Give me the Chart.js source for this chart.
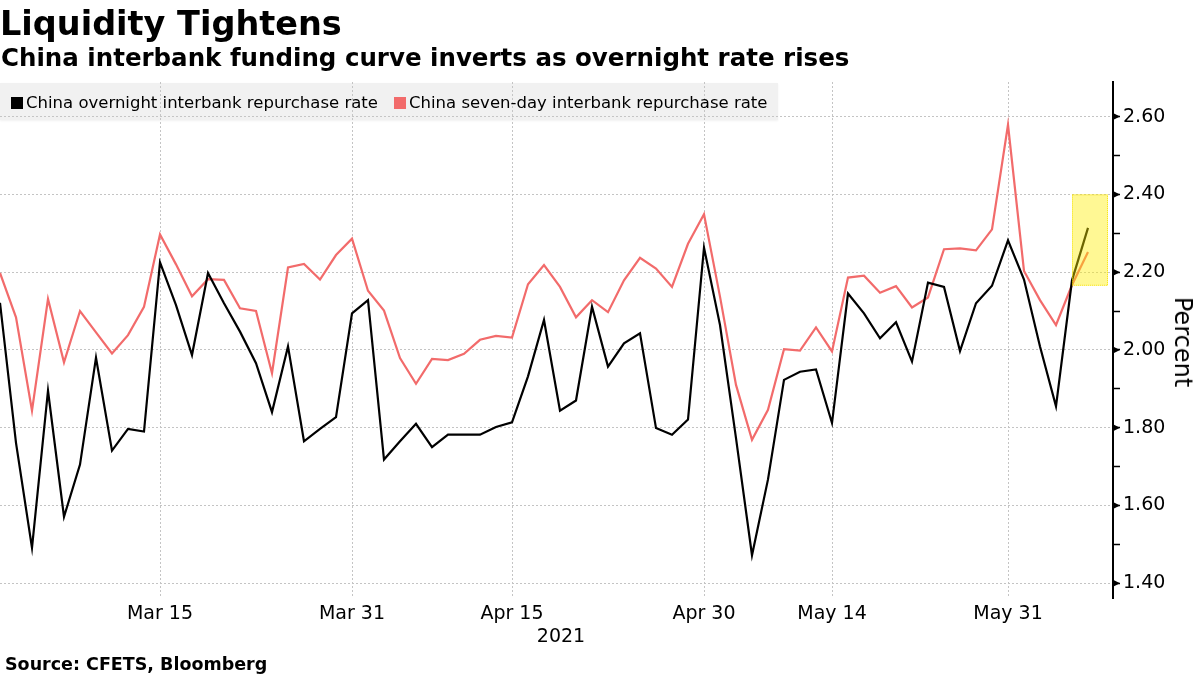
<!DOCTYPE html>
<html>
<head>
<meta charset="utf-8">
<script src="https://cdn.jsdelivr.net/npm/chart.js@4.4.0/dist/chart.umd.min.js"></script>
<style>
html,body{margin:0;padding:0;background:#fff;}
#wrap{position:relative;width:1200px;height:675px;overflow:hidden;font-family:"DejaVu Sans",sans-serif;color:#000;}
canvas{position:absolute;left:0;top:0;}
.t{position:absolute;white-space:nowrap;line-height:1;}
#legend{position:absolute;left:0;top:83px;width:778px;height:37px;background:rgba(200,200,200,0.25);box-shadow:0 1px 2px rgba(0,0,0,0.06);}
.sw{position:absolute;top:14px;width:12px;height:12px;}
.lt{position:absolute;top:12px;font-size:16.5px;line-height:1;white-space:nowrap;}
</style>
</head>
<body>
<div id="wrap">
<canvas id="c" width="1200" height="675"></canvas>
<div class="t" style="left:0;top:7px;font-size:33.5px;font-weight:bold;">Liquidity Tightens</div>
<div class="t" style="left:1px;top:46px;font-size:24.5px;font-weight:bold;">China interbank funding curve inverts as overnight rate rises</div>
<div id="legend"></div>
<div class="t" style="left:561px;top:626px;font-size:19px;transform:translateX(-50%);">2021</div>
<div class="t" style="left:1183px;top:342px;font-size:24px;transform:translate(-50%,-50%) rotate(90deg);">Percent</div>
<div class="t" style="left:5px;top:656px;font-size:17.5px;font-weight:bold;">Source: CFETS, Bloomberg</div>
</div>
<script>
// ---- data ----
const dates = [
"2021-03-01","2021-03-02","2021-03-03","2021-03-04","2021-03-05",
"2021-03-08","2021-03-09","2021-03-10","2021-03-11","2021-03-12",
"2021-03-15","2021-03-16","2021-03-17","2021-03-18","2021-03-19",
"2021-03-22","2021-03-23","2021-03-24","2021-03-25","2021-03-26",
"2021-03-29","2021-03-30","2021-03-31","2021-04-01","2021-04-02",
"2021-04-06","2021-04-07","2021-04-08","2021-04-09",
"2021-04-12","2021-04-13","2021-04-14","2021-04-15","2021-04-16",
"2021-04-19","2021-04-20","2021-04-21","2021-04-22","2021-04-23",
"2021-04-25","2021-04-26","2021-04-27","2021-04-28","2021-04-29","2021-04-30",
"2021-05-06","2021-05-07","2021-05-08",
"2021-05-10","2021-05-11","2021-05-12","2021-05-13","2021-05-14",
"2021-05-17","2021-05-18","2021-05-19","2021-05-20","2021-05-21",
"2021-05-24","2021-05-25","2021-05-26","2021-05-27","2021-05-28",
"2021-05-31","2021-06-01","2021-06-02","2021-06-03","2021-06-04",
"2021-06-07"
];
const overnight = [
2.121,1.761,1.491,1.895,1.571,1.705,1.980,1.741,1.797,1.790,
2.225,2.115,1.987,2.198,2.120,2.047,1.966,1.840,2.009,1.765,
1.797,1.827,2.094,2.128,1.718,1.765,1.810,1.750,1.782,1.782,
1.782,1.802,1.814,1.932,2.077,1.844,1.870,2.111,1.957,2.017,
2.043,1.799,1.782,1.821,2.263,2.064,1.773,1.472,1.667,1.923,
1.944,1.950,1.812,2.145,2.094,2.030,2.071,1.970,2.173,2.162,
1.997,2.120,2.165,2.282,2.181,2.009,1.855,2.179,2.314
];
const sevenDay = [
2.198,2.084,1.844,2.131,1.968,2.100,2.045,1.991,2.038,2.111,
2.297,2.220,2.138,2.182,2.180,2.107,2.100,1.940,2.212,2.221,
2.181,2.244,2.286,2.152,2.101,1.979,1.913,1.977,1.974,1.990,
2.026,2.036,2.032,2.169,2.218,2.162,2.084,2.128,2.097,2.179,
2.237,2.209,2.162,2.273,2.349,2.137,1.910,1.769,1.846,2.002,
1.998,2.058,1.996,2.186,2.191,2.147,2.164,2.109,2.135,2.259,
2.261,2.256,2.310,2.579,2.203,2.128,2.064,2.167,2.252
];
const seriesNames = ["China overnight interbank repurchase rate","China seven-day interbank repurchase rate"];
const seriesColors = ["#000000","#f26b6b"];
const xTickDates = ["2021-03-15","2021-03-31","2021-04-15","2021-04-30","2021-05-14","2021-05-31"];
const xTickLabels = ["Mar 15","Mar 31","Apr 15","Apr 30","May 14","May 31"];
const yTicks = [1.4,1.5,1.6,1.7,1.8,1.9,2.0,2.1,2.2,2.3,2.4,2.5,2.6];
const yLabels = [1.4,1.6,1.8,2.0,2.2,2.4,2.6];
const highlightX = [67, 69.25];
const highlightY = [2.165, 2.40];

// ---- legend ----
const lg = document.getElementById('legend');
const swX = [11, 394];
seriesNames.forEach((n,i)=>{
  const s = document.createElement('div'); s.className='sw'; s.style.left=swX[i]+'px'; s.style.background=seriesColors[i]; lg.appendChild(s);
  const t = document.createElement('div'); t.className='lt'; t.style.left=(swX[i]+15)+'px'; t.textContent=n; lg.appendChild(t);
});

const isMajor = v => yLabels.some(l => Math.abs(l - v) < 1e-6);

const extras = {
  id:'extras',
  afterDatasetsDraw(chart){
    const {ctx, scales:{x,y}} = chart;
    const x0 = x.getPixelForValue(highlightX[0]), x1 = x.getPixelForValue(highlightX[1]);
    const y0 = y.getPixelForValue(highlightY[1]), y1 = y.getPixelForValue(highlightY[0]);
    ctx.save();
    ctx.fillStyle = 'rgba(255,238,0,0.42)';
    ctx.fillRect(x0, y0, x1-x0, y1-y0);
    ctx.setLineDash([1,1]);
    ctx.strokeStyle = 'rgba(245,225,0,0.9)';
    ctx.lineWidth = 1;
    ctx.strokeRect(x0+0.5, y0+0.5, x1-x0-1, y1-y0-1);
    ctx.restore();
  },
  afterDraw(chart){
    const {ctx, scales:{y}} = chart;
    ctx.save();
    ctx.fillStyle = '#000';
    yLabels.forEach(v=>{
      const py = y.getPixelForValue(v);
      const ax = y.left;
      ctx.beginPath();
      ctx.moveTo(ax, py-3.5); ctx.lineTo(ax+7, py); ctx.lineTo(ax, py+3.5); ctx.closePath();
      ctx.fill();
    });
    ctx.restore();
  }
};

new Chart(document.getElementById('c'), {
  type:'line',
  data:{
    datasets:[
      {label:seriesNames[0], data: overnight.map((v,i)=>({x:i,y:v})), borderColor:seriesColors[0], borderWidth:2.2, pointRadius:0, tension:0},
      {label:seriesNames[1], data: sevenDay.map((v,i)=>({x:i,y:v})), borderColor:seriesColors[1], borderWidth:2.2, pointRadius:0, tension:0}
    ]
  },
  options:{
    responsive:false, animation:false, devicePixelRatio:1,
    layout:{padding:{top:82,left:0,right:0,bottom:0}},
    plugins:{legend:{display:false}, tooltip:{enabled:false}},
    scales:{
      x:{
        type:'linear', min:0, max:69.5625,
        afterBuildTicks: s => { s.ticks = xTickDates.map(d => ({value: dates.indexOf(d)})); },
        afterFit: s => { s.height = 77; },
        ticks:{font:{family:'DejaVu Sans', size:19}, color:'#000', padding:5, maxRotation:0, autoSkip:false,
          callback: v => xTickLabels[xTickDates.indexOf(dates[Math.round(v)])] || ''},
        grid:{color:'#c4c4c4', lineWidth:1, drawTicks:false},
        border:{display:false, dash:[2,2]}
      },
      y:{
        position:'right', min:1.362, max:2.689,
        afterBuildTicks: s => { s.ticks = yTicks.map(v => ({value:v})); },
        afterFit: s => { s.width = 87; },
        ticks:{font:{family:'DejaVu Sans', size:19}, color:'#000', padding:3,
          callback: v => isMajor(v) ? v.toFixed(2) : ''},
        grid:{
          color: c => (c.tick && isMajor(c.tick.value)) ? '#c4c4c4' : 'rgba(0,0,0,0)',
          lineWidth:1, drawTicks:true, tickLength:7, tickColor:'#000', tickWidth:1.5
        },
        border:{display:true, color:'#000', width:2, dash:[2,2]}
      }
    }
  },
  plugins:[extras]
});
</script>
</body>
</html>
